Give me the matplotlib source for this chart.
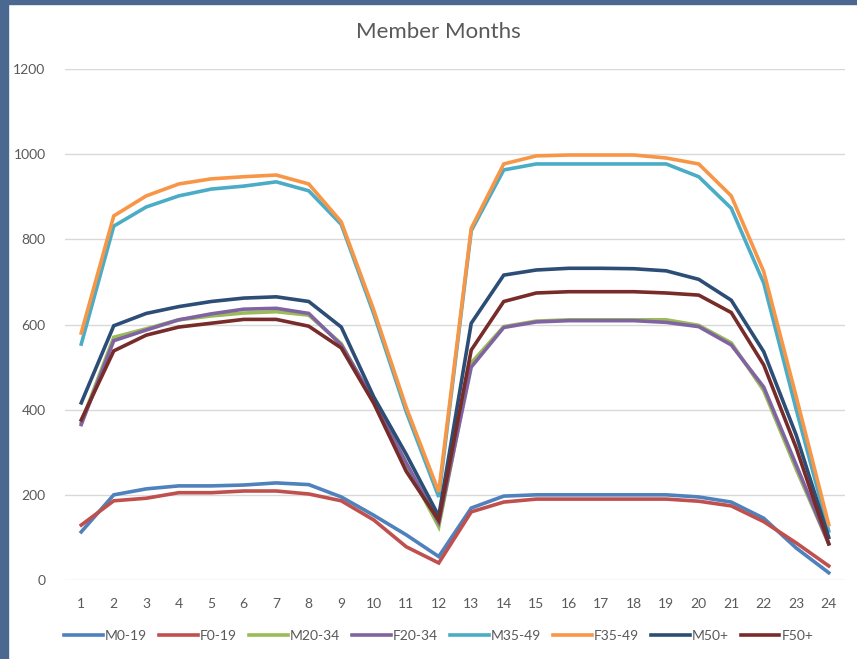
import matplotlib.pyplot as plt
from matplotlib.patches import Rectangle

months = list(range(1, 25))

m0_19 = [113, 200, 214, 221, 221, 223, 228, 224, 195, 152, 106, 55,
         169, 197, 200, 200, 200, 200, 200, 195, 183, 145, 75, 17]
f0_19 = [129, 186, 192, 205, 205, 209, 209, 202, 186, 141, 78, 40,
         160, 183, 190, 190, 190, 190, 190, 185, 174, 137, 87, 33]
m20_34 = [370, 570, 590, 611, 620, 627, 630, 622, 555, 418, 270, 125,
          510, 595, 608, 611, 611, 611, 611, 598, 557, 445, 260, 85]
f20_34 = [365, 562, 587, 611, 625, 636, 638, 626, 552, 422, 275, 135,
          500, 593, 606, 609, 609, 609, 605, 595, 552, 453, 270, 85]
m35_49 = [554, 831, 876, 902, 918, 925, 935, 914, 835, 625, 395, 195,
          820, 963, 977, 977, 977, 977, 977, 947, 873, 697, 400, 115]
f35_49 = [580, 855, 902, 930, 942, 947, 951, 930, 841, 634, 405, 207,
          826, 977, 996, 998, 998, 998, 991, 977, 902, 724, 430, 130]
m50 = [416, 597, 626, 642, 654, 662, 665, 654, 594, 430, 295, 150,
       603, 716, 728, 732, 732, 731, 726, 706, 657, 536, 340, 100]
f50 = [376, 538, 575, 594, 603, 612, 612, 596, 545, 415, 255, 140,
       540, 654, 674, 677, 677, 677, 674, 669, 628, 505, 310, 85]

series = [
    ("M0-19", m0_19, "#4F81BD"),
    ("F0-19", f0_19, "#C0504D"),
    ("M20-34", m20_34, "#9BBB59"),
    ("F20-34", f20_34, "#8064A2"),
    ("M35-49", m35_49, "#4BACC6"),
    ("F35-49", f35_49, "#F79646"),
    ("M50+", m50, "#2C4D75"),
    ("F50+", f50, "#772C2A"),
]

plt.rcParams['font.family'] = ['Lato', 'DejaVu Sans']
text_color = "#595959"

fig = plt.figure(figsize=(8.57, 6.59), dpi=100)
# dark frame on the left and top, like the screenshot
fig.patches.append(Rectangle((0, 0), 8 / 857, 1, transform=fig.transFigure,
                             color="#4A6890", zorder=10))
fig.patches.append(Rectangle((0, 1 - 4 / 659), 1, 4 / 659, transform=fig.transFigure,
                             color="#4A6890", zorder=10))

ax = fig.add_axes([65 / 857, 1 - 580 / 659, 780 / 857, 511 / 659])

for name, vals, col in series:
    ax.plot(months, vals, color=col, linewidth=2.6, label=name,
            solid_joinstyle="miter")

ax.set_xlim(0.5, 24.5)
ax.set_ylim(0, 1200)
ax.set_xticks(months)
ax.set_yticks(range(0, 1201, 200))
ax.grid(axis="y", color="#D9D9D9", linewidth=1)
ax.set_axisbelow(True)
for s in ax.spines.values():
    s.set_visible(False)
ax.tick_params(axis="both", length=0, labelsize=10, labelcolor=text_color)
ax.tick_params(axis="x", pad=13)
ax.tick_params(axis="y", pad=14)

fig.text(0.511, 1 - 32 / 659, "Member Months", ha="center", va="center",
         fontsize=16, color=text_color)

fig.legend(loc="center", bbox_to_anchor=(0.512, 1 - 636 / 659), ncol=8,
           frameon=False, fontsize=10, handlelength=2.8, columnspacing=0.85,
           handletextpad=0.15, labelcolor=text_color)

fig.savefig("out.png", dpi=100)
